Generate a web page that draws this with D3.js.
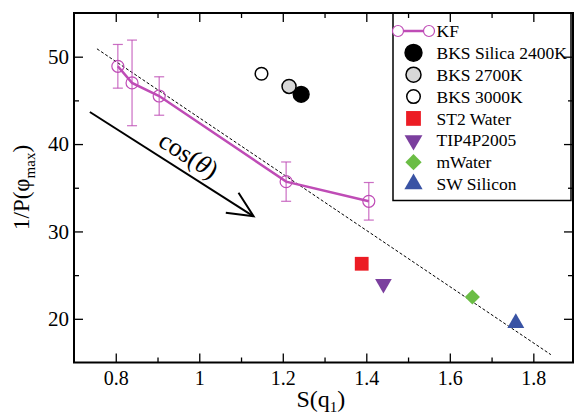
<!DOCTYPE html>
<html>
<head>
<meta charset="utf-8">
<script src="https://cdn.jsdelivr.net/npm/d3@7"></script>
<style>
body { margin: 0; background: white; }
</style>
</head>
<body>
<script>
// KF points with error bars
var kfS = [0.805, 0.839, 0.904, 1.208, 1.406];
var kfInv = [48.9, 47.0, 45.5, 35.7, 33.45];
var kfErr = [2.5, 4.9, 2.2, 2.25, 2.15];

// single model points
var modelNames = ["BKS Silica 2400K", "BKS 2700K", "BKS 3000K", "ST2 Water", "TIP4P2005", "mWater", "SW Silicon"];
var modelS = [1.244, 1.215, 1.149, 1.389, 1.441, 1.654, 1.758];
var modelInv = [45.7, 46.6, 48.05, 26.3, 24.0, 22.5, 19.5];

// dashed guide line and the cos(theta) arrow, in data units
var fitS = [0.755, 1.842];
var fitInv = [50.9, 15.9];
var arrowS = [0.738, 1.130];
var arrowInv = [43.67, 31.73];
var arrowLabelAt = [0.898, 39.9];

// ticks
var xTicks = [0.8, 1, 1.2, 1.4, 1.6, 1.8];
var xTickLabels = ["0.8", "1", "1.2", "1.4", "1.6", "1.8"];
var xMinor = [0.9, 1.1, 1.3, 1.5, 1.7];
var yTicks = [20, 30, 40, 50];
var yTickLabels = ["20", "30", "40", "50"];
var yMinor = [25, 35, 45];

// marker styles, one per model
var modelShape = ["circle", "circle", "circle", "square", "down", "diamond", "up"];
var modelSize = [195, 154, 125, 190, 120, 115, 125];
var modelFill = ["black", "#d8d8d8", "white", "#ec1c24", "#7b3f9e", "#6bbd45", "#3953a4"];
var modelStroke = ["black", "black", "black", "none", "none", "none", "none"];

var KF_COLOR = "#bf4cb6";
var FONT = "'Liberation Serif', 'Times New Roman', serif";

var W = 574, H = 416;
var plot = {left: 74, right: 573, top: 13, bottom: 362.5};

var x = d3.scaleLinear().domain([0.7, 1.895]).range([plot.left, plot.right]);
var y = d3.scaleLinear().domain([15, 55]).range([plot.bottom, plot.top]);

var svg = d3.select("body")
    .append("svg")
    .attr("width", W)
    .attr("height", H)
    .attr("font-family", FONT);

// axes: ticks point inward on all four sides
function drawAxes() {
    var bottom = svg.append("g")
        .attr("transform", "translate(0," + plot.bottom + ")")
        .call(d3.axisBottom(x).tickValues(xTicks)
            .tickFormat(function(d, i) { return xTickLabels[i]; })
            .tickSize(-9).tickSizeOuter(0).tickPadding(8));
    bottom.attr("font-family", FONT);
    bottom.selectAll("text").attr("font-size", 20).attr("dy", "0.72em");
    svg.append("g")
        .attr("transform", "translate(0," + plot.bottom + ")")
        .call(d3.axisBottom(x).tickValues(xMinor).tickFormat("").tickSize(-5).tickSizeOuter(0));
    svg.append("g")
        .attr("transform", "translate(0," + plot.top + ")")
        .call(d3.axisTop(x).tickValues(xTicks).tickFormat("").tickSize(-9).tickSizeOuter(0));
    svg.append("g")
        .attr("transform", "translate(0," + plot.top + ")")
        .call(d3.axisTop(x).tickValues(xMinor).tickFormat("").tickSize(-5).tickSizeOuter(0));

    var left = svg.append("g")
        .attr("transform", "translate(" + plot.left + ",0)")
        .call(d3.axisLeft(y).tickValues(yTicks)
            .tickFormat(function(d, i) { return yTickLabels[i]; })
            .tickSize(-9).tickSizeOuter(0).tickPadding(5));
    left.attr("font-family", FONT);
    left.selectAll("text").attr("font-size", 21);
    svg.append("g")
        .attr("transform", "translate(" + plot.left + ",0)")
        .call(d3.axisLeft(y).tickValues(yMinor).tickFormat("").tickSize(-5).tickSizeOuter(0));
    svg.append("g")
        .attr("transform", "translate(" + plot.right + ",0)")
        .call(d3.axisRight(y).tickValues(yTicks).tickFormat("").tickSize(-9).tickSizeOuter(0));
    svg.append("g")
        .attr("transform", "translate(" + plot.right + ",0)")
        .call(d3.axisRight(y).tickValues(yMinor).tickFormat("").tickSize(-5).tickSizeOuter(0));

    svg.selectAll(".domain").remove();
    svg.selectAll(".tick line").attr("stroke", "black").attr("stroke-width", 1.3);
    svg.selectAll(".tick text").attr("fill", "black");

    svg.append("rect")
        .attr("x", plot.left)
        .attr("y", plot.top)
        .attr("width", plot.right - plot.left)
        .attr("height", plot.bottom - plot.top)
        .attr("fill", "none")
        .attr("stroke", "black")
        .attr("stroke-width", 2);

    // axis titles
    var xt = svg.append("text")
        .attr("x", 296.5)
        .attr("y", 407)
        .attr("font-size", 24);
    xt.append("tspan").text("S(q");
    xt.append("tspan").attr("font-size", 15).attr("dy", 5).text("1");
    xt.append("tspan").attr("dy", -5).text(")");

    var yt = svg.append("text")
        .attr("transform", "translate(28.5,230) rotate(-90)")
        .attr("font-size", 23);
    yt.append("tspan").text("1/P(φ");
    yt.append("tspan").attr("font-size", 15).attr("dy", 6).text("max");
    yt.append("tspan").attr("dy", -6).text(")");
}

function symbolPath(shape, size) {
    var type = d3.symbolCircle;
    if (shape === "square" || shape === "diamond") type = d3.symbolSquare;
    if (shape === "up" || shape === "down") type = d3.symbolTriangle;
    return d3.symbol().type(type).size(size)();
}

function symbolRotation(shape) {
    if (shape === "down") return 180;
    if (shape === "diamond") return 45;
    return 0;
}

function drawGuides() {
    svg.append("line")
        .attr("x1", x(fitS[0])).attr("y1", y(fitInv[0]))
        .attr("x2", x(fitS[1])).attr("y2", y(fitInv[1]))
        .attr("stroke", "black")
        .attr("stroke-width", 1)
        .attr("stroke-dasharray", "3,2");

    var x1 = x(arrowS[0]), y1 = y(arrowInv[0]);
    var x2 = x(arrowS[1]), y2 = y(arrowInv[1]);
    var ang = Math.atan2(y2 - y1, x2 - x1);
    var wing = 28, spread = 25 * Math.PI / 180;
    svg.append("line")
        .attr("x1", x1).attr("y1", y1)
        .attr("x2", x2).attr("y2", y2)
        .attr("stroke", "black")
        .attr("stroke-width", 2);
    svg.append("path")
        .attr("d", "M" + (x2 - wing * Math.cos(ang - spread)) + "," + (y2 - wing * Math.sin(ang - spread)) +
            "L" + x2 + "," + y2 +
            "L" + (x2 - wing * Math.cos(ang + spread)) + "," + (y2 - wing * Math.sin(ang + spread)))
        .attr("fill", "none")
        .attr("stroke", "black")
        .attr("stroke-width", 2);

    var lx = x(arrowLabelAt[0]), ly = y(arrowLabelAt[1]);
    var lab = svg.append("text")
        .attr("transform", "translate(" + lx + "," + ly + ") rotate(" + (ang * 180 / Math.PI) + ")")
        .attr("font-size", 26);
    lab.append("tspan").text("cos(");
    lab.append("tspan").attr("font-style", "italic").text("θ");
    lab.append("tspan").text(")");
}

function drawKF() {
    var g = svg.append("g");
    kfS.forEach(function(s, i) {
        var cx = x(s);
        g.append("line")
            .attr("x1", cx).attr("x2", cx)
            .attr("y1", y(kfInv[i] - kfErr[i])).attr("y2", y(kfInv[i] + kfErr[i]))
            .attr("stroke", KF_COLOR).attr("stroke-width", 1.2).attr("opacity", 0.8);
        [kfInv[i] - kfErr[i], kfInv[i] + kfErr[i]].forEach(function(v) {
            g.append("line")
                .attr("x1", cx - 5).attr("x2", cx + 5)
                .attr("y1", y(v)).attr("y2", y(v))
                .attr("stroke", KF_COLOR).attr("stroke-width", 1.2).attr("opacity", 0.8);
        });
    });
    var line = d3.line()
        .x(function(d, i) { return x(kfS[i]); })
        .y(function(d) { return y(d); });
    g.append("path")
        .attr("d", line(kfInv))
        .attr("fill", "none")
        .attr("stroke", KF_COLOR)
        .attr("stroke-width", 2.5);
    g.selectAll("circle")
        .data(kfInv)
        .enter()
        .append("circle")
        .attr("cx", function(d, i) { return x(kfS[i]); })
        .attr("cy", function(d) { return y(d); })
        .attr("r", 6)
        .attr("fill", "none")
        .attr("stroke", KF_COLOR)
        .attr("stroke-width", 1.2);
}

function drawModels() {
    svg.append("g")
        .selectAll("path")
        .data(modelNames)
        .enter()
        .append("path")
        .attr("transform", function(d, i) {
            return "translate(" + x(modelS[i]) + "," + y(modelInv[i]) + ") rotate(" + symbolRotation(modelShape[i]) + ")";
        })
        .attr("d", function(d, i) { return symbolPath(modelShape[i], modelSize[i]); })
        .attr("fill", function(d, i) { return modelFill[i]; })
        .attr("stroke", function(d, i) { return modelStroke[i]; })
        .attr("stroke-width", 1.5);
}

function drawLegend() {
    var box = {left: 393, right: 571, top: 13, bottom: 200.5};
    var rowY = d3.scaleLinear().domain([0, modelNames.length]).range([31, 184]);
    var symX = 413.5, textX = 436.5;

    svg.append("rect")
        .attr("x", box.left).attr("y", box.top)
        .attr("width", box.right - box.left).attr("height", box.bottom - box.top)
        .attr("fill", "white")
        .attr("stroke", "black")
        .attr("stroke-width", 1.5);

    // KF entry: line with open circles at both ends
    svg.append("line")
        .attr("x1", 398).attr("x2", 429)
        .attr("y1", rowY(0)).attr("y2", rowY(0))
        .attr("stroke", KF_COLOR).attr("stroke-width", 2.5);
    [398, 429].forEach(function(cx) {
        svg.append("circle")
            .attr("cx", cx).attr("cy", rowY(0)).attr("r", 5.5)
            .attr("fill", "white").attr("stroke", KF_COLOR).attr("stroke-width", 1.2);
    });
    svg.append("text")
        .attr("x", textX).attr("y", rowY(0))
        .attr("dy", "0.35em")
        .attr("font-size", 17.5)
        .text("KF");

    var rows = svg.append("g")
        .selectAll("g")
        .data(modelNames)
        .enter()
        .append("g")
        .attr("transform", function(d, i) { return "translate(0," + rowY(i + 1) + ")"; });
    rows.append("path")
        .attr("transform", function(d, i) {
            return "translate(" + symX + ",0) rotate(" + symbolRotation(modelShape[i]) + ")";
        })
        .attr("d", function(d, i) { return symbolPath(modelShape[i], modelSize[i] * 1.15); })
        .attr("fill", function(d, i) { return modelFill[i]; })
        .attr("stroke", function(d, i) { return modelStroke[i]; })
        .attr("stroke-width", 1.5);
    rows.append("text")
        .attr("x", textX)
        .attr("dy", "0.35em")
        .attr("font-size", 17.5)
        .text(function(d) { return d; });
}

drawGuides();
drawKF();
drawModels();
drawLegend();
drawAxes();
</script>
</body>
</html>
